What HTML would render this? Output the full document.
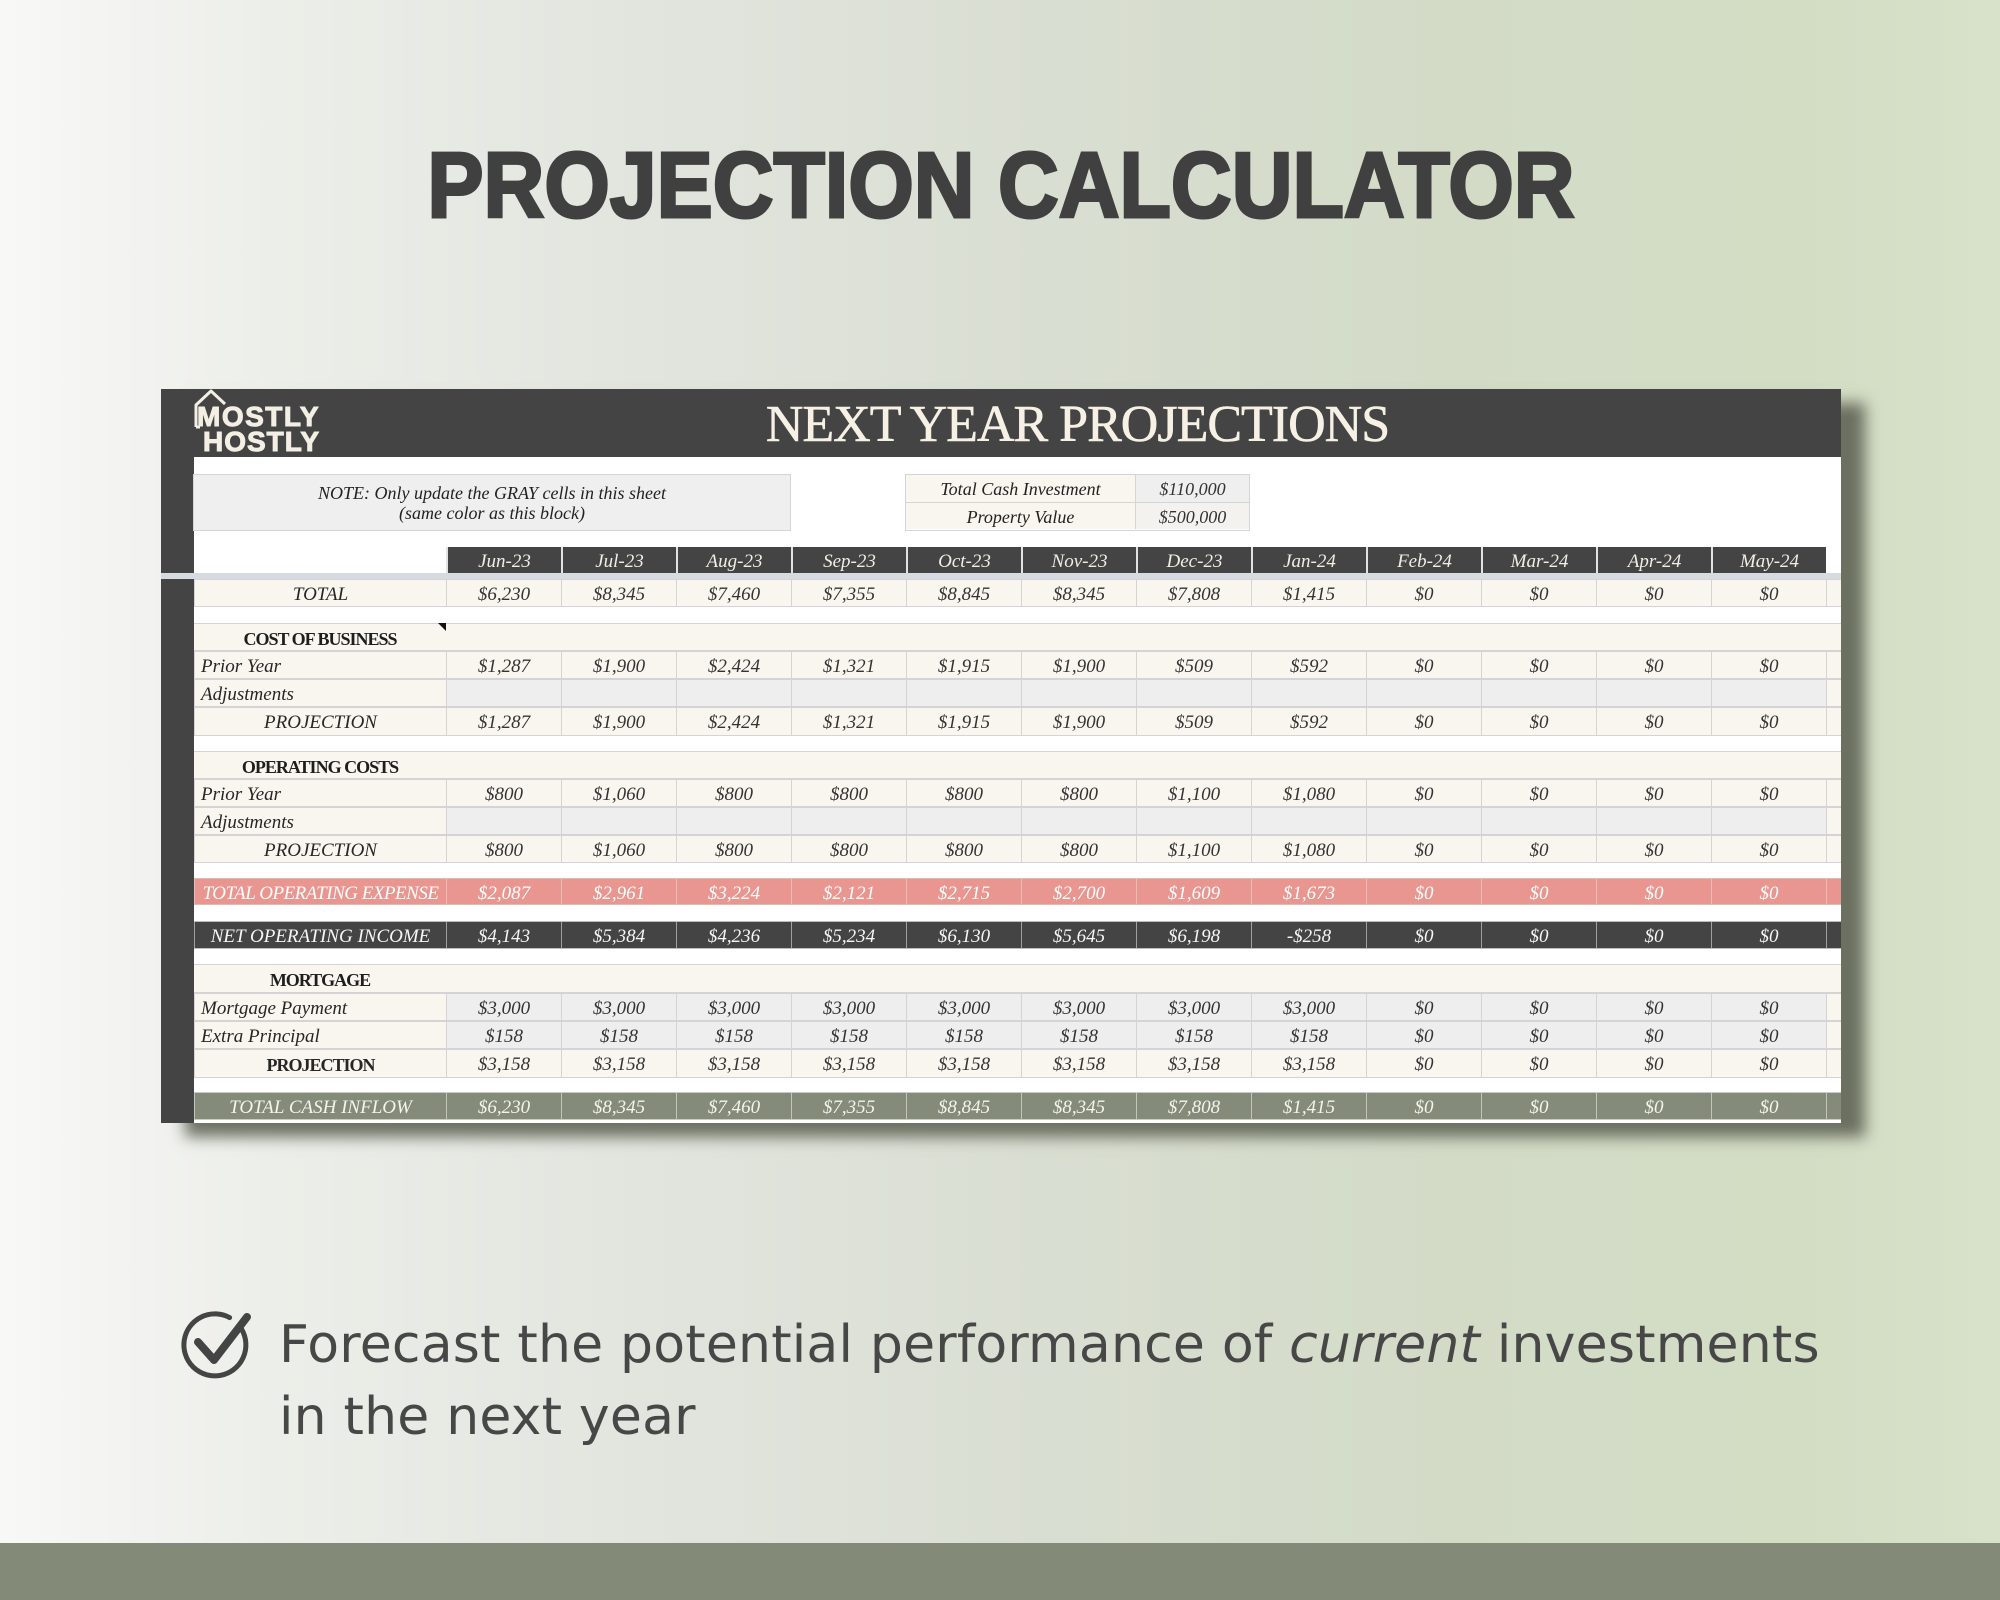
<!DOCTYPE html>
<html><head><meta charset="utf-8">
<style>
*{margin:0;padding:0}
html,body{width:2000px;height:1600px;overflow:hidden}
body{position:relative;background:linear-gradient(90deg,#f8f8f7 0%,#eceee9 14%,#e2e5de 32%,#d9ded2 52%,#d3dbc7 72%,#d3ddc4 90%,#d8e2ca 100%);font-family:"Liberation Sans",sans-serif}
.title{position:absolute;left:1px;top:139px;width:2000px;text-align:center;font:bold 93px/93px "Liberation Sans",sans-serif;color:#404040;-webkit-text-stroke:3px #404040;transform:scaleX(.905);transform-origin:center}
.band{position:absolute;left:0;top:1543px;width:2000px;height:57px;background:#838a78}
.bullet{position:absolute;left:279px;top:1309px;font:52px/72px "DejaVu Sans","Liberation Sans",sans-serif;letter-spacing:.2px;color:#474747;white-space:nowrap}
.sheet{position:absolute;left:161px;top:389px;width:1680px;height:734px;background:#fff;box-shadow:24px 14px 14px rgba(95,100,85,.9)}
.hdr{position:absolute;left:0;top:0;width:1680px;height:68px;background:#444}
.strip{position:absolute;left:0;top:0;width:33px;height:734px;background:#444}
.freeze{position:absolute;left:0;top:184px;width:1680px;height:6px;background:#d7dbe1}
.ttl{position:absolute;left:0;top:2px;width:1833px;text-align:center;font:52px/68px "Liberation Serif",serif;letter-spacing:-1px;color:#f6f1e4;-webkit-text-stroke:.6px #f6f1e4}
.logo{position:absolute;font:bold 28px/28px "Liberation Sans",sans-serif;color:#f3efe4;-webkit-text-stroke:1px #f3efe4}
.note{position:absolute;left:32px;top:85px;width:598px;height:57px;box-sizing:border-box;background:#efefef;border:1.5px solid #d5d5d5;display:flex;align-items:center;justify-content:center;text-align:center;font:italic 18px/20px "Liberation Serif",serif;color:#222}
.inv{position:absolute;left:744px;top:85px;width:345px;height:57px;box-sizing:border-box;border:1.5px solid #d5d5d5;font:italic 18px/27px "Liberation Serif",serif;color:#222}
.inv div{position:absolute;text-align:center;box-sizing:border-box}
.mh{position:absolute;left:285px;top:158px;height:26px;display:flex}
.mh div{width:115px;box-sizing:border-box;border-left:2px solid #e2e2e2;background:#444;color:#f2eee3;text-align:center;font:italic 19px/30px "Liberation Serif",serif}
.row{position:absolute;left:33px;width:1647px;height:28px;display:flex;box-sizing:border-box;border-top:1px solid #d4d4d4;border-bottom:1px solid #d4d4d4;background:#f8f6ee;font:italic 19px/30px "Liberation Serif",serif;color:#333}
.row>div{box-sizing:border-box;border-left:1px solid #d4d4d4;text-align:center;width:115px;white-space:nowrap;overflow:visible}
.row>.l{width:252px;text-align:left;padding-left:6px;color:#262626}
.row>.lc{width:252px;text-align:center;color:#262626}
.row>.f{width:15px}
.row .g{background:#eeeeee}
.sec{display:block}
.sec>span{position:absolute;left:0;top:0;width:252px;text-align:center;font:bold 18px/30px "Liberation Serif",serif;letter-spacing:-1px;color:#1e1e1e}
.toe{background:#e8968f;color:#fff;border-color:#dcbab6}
.toe>div{border-left-color:#e9bcb7 !important}
.toe>.lc{color:#fff;letter-spacing:-.5px}
.noi{background:#444;color:#f6f6f6;border-color:#bdbdbd}
.noi>div{border-left-color:#a0a0a0 !important}
.noi>.lc{color:#f6f6f6}
.tci{background:#848b79;color:#f4f4ee;border-color:#c9ccc2}
.tci>div{border-left-color:#c2c6ba !important}
.tci>.lc{color:#f4f4ee}
.bold{font-style:normal;font-weight:bold;letter-spacing:-1px;font-size:18px}
</style></head><body>

<div class="title">PROJECTION CALCULATOR</div>

<div class="sheet">
  <div class="hdr"></div>
  <div class="strip"></div>
  <svg style="position:absolute;left:0;top:0" width="80" height="70">
    <path d="M35 38 L35 16 L50 2 L64 15" fill="none" stroke="#f3efe4" stroke-width="3" stroke-linejoin="round"/>
    <path d="M35 38 L39 38" fill="none" stroke="#f3efe4" stroke-width="3"/>
  </svg>
  <div class="logo" style="left:36px;top:14px;letter-spacing:1.5px">MOSTLY</div>
  <div class="logo" style="left:42px;top:39px;letter-spacing:1px">HOSTLY</div>
  <div class="ttl">NEXT YEAR PROJECTIONS</div>

  <div class="note"><div>NOTE: Only update the GRAY cells in this sheet<br>(same color as this block)</div></div>

  <div class="inv">
    <div style="left:0;top:0;width:230px;height:28px;background:#f8f6ee;border-right:1.5px solid #d5d5d5;border-bottom:1.5px solid #d5d5d5;line-height:29px">Total Cash Investment</div>
    <div style="left:230px;top:0;width:113px;height:28px;background:#efefef;border-bottom:1.5px solid #d5d5d5;color:#333;line-height:29px">$110,000</div>
    <div style="left:0;top:28px;width:230px;height:26px;background:#f8f6ee;border-right:1.5px solid #d5d5d5;line-height:29px">Property Value</div>
    <div style="left:230px;top:28px;width:113px;height:26px;background:#f3f2ee;color:#333;line-height:29px">$500,000</div>
  </div>

  <div class="mh"><div>Jun-23</div><div>Jul-23</div><div>Aug-23</div><div>Sep-23</div><div>Oct-23</div><div>Nov-23</div><div>Dec-23</div><div>Jan-24</div><div>Feb-24</div><div>Mar-24</div><div>Apr-24</div><div>May-24</div></div>

  <div class="freeze"></div>

  <div class="row" style="top:190px"><div class="lc">TOTAL</div><div>$6,230</div><div>$8,345</div><div>$7,460</div><div>$7,355</div><div>$8,845</div><div>$8,345</div><div>$7,808</div><div>$1,415</div><div>$0</div><div>$0</div><div>$0</div><div>$0</div><div class="f"></div></div>

  <div class="row sec" style="top:234px"><span>COST OF BUSINESS</span></div>
  <div style="position:absolute;left:277px;top:234px;width:0;height:0;border-top:8px solid #111;border-left:8px solid transparent"></div>
  <div class="row" style="top:262px"><div class="l">Prior Year</div><div>$1,287</div><div>$1,900</div><div>$2,424</div><div>$1,321</div><div>$1,915</div><div>$1,900</div><div>$509</div><div>$592</div><div>$0</div><div>$0</div><div>$0</div><div>$0</div><div class="f"></div></div>
  <div class="row" style="top:290px"><div class="l">Adjustments</div><div class="g"></div><div class="g"></div><div class="g"></div><div class="g"></div><div class="g"></div><div class="g"></div><div class="g"></div><div class="g"></div><div class="g"></div><div class="g"></div><div class="g"></div><div class="g"></div><div class="f"></div></div>
  <div class="row" style="top:318px;height:29px"><div class="lc">PROJECTION</div><div>$1,287</div><div>$1,900</div><div>$2,424</div><div>$1,321</div><div>$1,915</div><div>$1,900</div><div>$509</div><div>$592</div><div>$0</div><div>$0</div><div>$0</div><div>$0</div><div class="f"></div></div>

  <div class="row sec" style="top:362px"><span>OPERATING COSTS</span></div>
  <div class="row" style="top:390px"><div class="l">Prior Year</div><div>$800</div><div>$1,060</div><div>$800</div><div>$800</div><div>$800</div><div>$800</div><div>$1,100</div><div>$1,080</div><div>$0</div><div>$0</div><div>$0</div><div>$0</div><div class="f"></div></div>
  <div class="row" style="top:418px"><div class="l">Adjustments</div><div class="g"></div><div class="g"></div><div class="g"></div><div class="g"></div><div class="g"></div><div class="g"></div><div class="g"></div><div class="g"></div><div class="g"></div><div class="g"></div><div class="g"></div><div class="g"></div><div class="f"></div></div>
  <div class="row" style="top:446px"><div class="lc">PROJECTION</div><div>$800</div><div>$1,060</div><div>$800</div><div>$800</div><div>$800</div><div>$800</div><div>$1,100</div><div>$1,080</div><div>$0</div><div>$0</div><div>$0</div><div>$0</div><div class="f"></div></div>

  <div class="row toe" style="top:489px;height:27px"><div class="lc">TOTAL OPERATING EXPENSE</div><div>$2,087</div><div>$2,961</div><div>$3,224</div><div>$2,121</div><div>$2,715</div><div>$2,700</div><div>$1,609</div><div>$1,673</div><div>$0</div><div>$0</div><div>$0</div><div>$0</div><div class="f"></div></div>

  <div class="row noi" style="top:532px"><div class="lc">NET OPERATING INCOME</div><div>$4,143</div><div>$5,384</div><div>$4,236</div><div>$5,234</div><div>$6,130</div><div>$5,645</div><div>$6,198</div><div>-$258</div><div>$0</div><div>$0</div><div>$0</div><div>$0</div><div class="f"></div></div>

  <div class="row sec" style="top:575px;height:29px"><span>MORTGAGE</span></div>
  <div class="row" style="top:604px"><div class="l">Mortgage Payment</div><div class="g">$3,000</div><div class="g">$3,000</div><div class="g">$3,000</div><div class="g">$3,000</div><div class="g">$3,000</div><div class="g">$3,000</div><div class="g">$3,000</div><div class="g">$3,000</div><div class="g">$0</div><div class="g">$0</div><div class="g">$0</div><div class="g">$0</div><div class="f"></div></div>
  <div class="row" style="top:632px"><div class="l">Extra Principal</div><div class="g">$158</div><div class="g">$158</div><div class="g">$158</div><div class="g">$158</div><div class="g">$158</div><div class="g">$158</div><div class="g">$158</div><div class="g">$158</div><div class="g">$0</div><div class="g">$0</div><div class="g">$0</div><div class="g">$0</div><div class="f"></div></div>
  <div class="row" style="top:660px;height:29px"><div class="lc bold">PROJECTION</div><div>$3,158</div><div>$3,158</div><div>$3,158</div><div>$3,158</div><div>$3,158</div><div>$3,158</div><div>$3,158</div><div>$3,158</div><div>$0</div><div>$0</div><div>$0</div><div>$0</div><div class="f"></div></div>

  <div class="row tci" style="top:703px"><div class="lc">TOTAL CASH INFLOW</div><div>$6,230</div><div>$8,345</div><div>$7,460</div><div>$7,355</div><div>$8,845</div><div>$8,345</div><div>$7,808</div><div>$1,415</div><div>$0</div><div>$0</div><div>$0</div><div>$0</div><div class="f"></div></div>
</div>

<svg style="position:absolute;left:0;top:0" width="300" height="1400" viewBox="0 0 300 1400">
  <path d="M241.8 1329.5 A31 31 0 1 1 229.6 1317.6" fill="none" stroke="#444" stroke-width="5" stroke-linecap="round"/>
  <path d="M198 1342 L214 1360 L247 1317" fill="none" stroke="#444" stroke-width="8" stroke-linecap="round" stroke-linejoin="round"/>
</svg>
<div class="bullet">Forecast the potential performance of <i>current</i> investments<br>in the next year</div>

<div class="band"></div>
</body></html>
